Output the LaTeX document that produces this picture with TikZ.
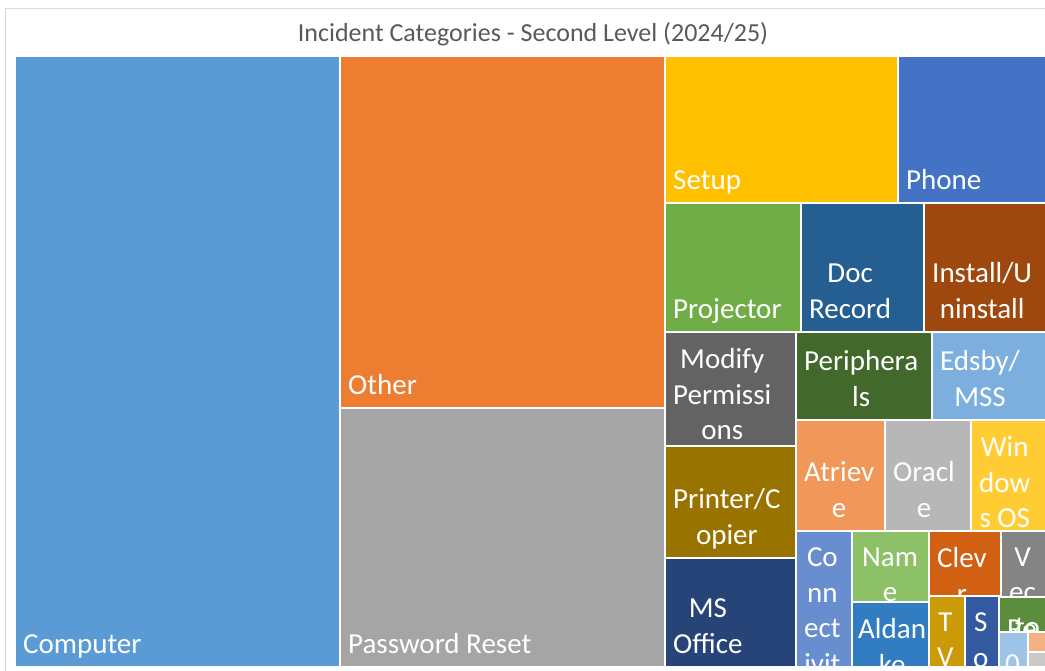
\documentclass[tikz,border=0pt]{standalone}
\usepackage{fontspec}
\setmainfont{Carlito}
\definecolor{chartborder}{HTML}{D9D9D9}
\definecolor{titlegray}{HTML}{595959}
\definecolor{computer}{HTML}{5B9BD5}
\definecolor{other}{HTML}{ED7D31}
\definecolor{password}{HTML}{A5A5A5}
\definecolor{setup}{HTML}{FFC000}
\definecolor{phone}{HTML}{4472C4}
\definecolor{projector}{HTML}{70AD47}
\definecolor{docrecord}{HTML}{255E91}
\definecolor{install}{HTML}{9E480E}
\definecolor{modify}{HTML}{636363}
\definecolor{peripherals}{HTML}{43682B}
\definecolor{edsby}{HTML}{7CAFDD}
\definecolor{printer}{HTML}{997300}
\definecolor{atrieve}{HTML}{F1975A}
\definecolor{oracle}{HTML}{B7B7B7}
\definecolor{windows}{HTML}{FFCD33}
\definecolor{msoffice}{HTML}{264478}
\definecolor{connectivity}{HTML}{698ED0}
\definecolor{namechange}{HTML}{8CC168}
\definecolor{clever}{HTML}{D26012}
\definecolor{vector}{HTML}{848484}
\definecolor{bluetile}{HTML}{327DC2}
\definecolor{tv}{HTML}{CC9A06}
\definecolor{sotile}{HTML}{335AA1}
\definecolor{retile}{HTML}{5C8D3E}
\definecolor{ltblue}{HTML}{9DC3E6}
\definecolor{salmon}{HTML}{F4B183}
\definecolor{greytile}{HTML}{C9C9C9}
\newcommand\tilefont{\fontsize{29}{35.5}\selectfont}
\tikzset{
  tile/.style={draw=white, line width=2pt},
  lbl/.style={text=white, font=\tilefont, inner sep=0pt, align=center,
    execute at begin node=\strut, execute at end node=\strut},
  lblbot/.style={lbl, anchor=south west},
  lbltop/.style={lbl, anchor=north west},
  charttitle/.style={text=titlegray, font=\fontsize{26}{31}\selectfont, inner sep=0pt, anchor=base}
}
\begin{document}
\begin{tikzpicture}[x=1pt,y=-1pt]
  \useasboundingbox (0,0) rectangle (1045,671);
  \draw[chartborder] (5.5,8.5) rectangle (1070,700);
  \node[charttitle] (title) at (533,42) {Incident Categories - Second Level (2024/25)};
  \begin{scope}
    \clip (15,56) rectangle (1047,667);
    % large tiles
    \draw[tile,fill=computer] (15,56) rectangle (340,667);
    \node[lblbot] (computerlbl) at (23,664) {Computer};
    \draw[tile,fill=other] (340,56) rectangle (665,408);
    \node[lblbot] (otherlbl) at (348,405) {Other};
    \draw[tile,fill=password] (340,408) rectangle (665,667);
    \node[lblbot] (passwordlbl) at (348,664) {Password Reset};
    \draw[tile,fill=setup] (665,56) rectangle (898,203);
    \node[lblbot] (setuplbl) at (673,200) {Setup};
    \draw[tile,fill=phone] (898,56) rectangle (1047,203);
    \node[lblbot] (phonelbl) at (906,200) {Phone};
    % second row
    \draw[tile,fill=projector] (665,203) rectangle (801,332);
    \node[lblbot] (projectorlbl) at (673,329) {Projector};
    \draw[tile,fill=docrecord] (801,203) rectangle (924,332);
    \node[lblbot] (docrecordlbl) at (809,329) {Doc\\Record};
    \draw[tile,fill=install] (924,203) rectangle (1047,332);
    \node[lblbot] (installlbl) at (932,329) {Install/U\\ninstall};
    % middle block
    \draw[tile,fill=modify] (665,332) rectangle (796,446);
    \node[lbltop] (modifylbl) at (673,348.5) {Modify\\Permissi\\ons};
    \draw[tile,fill=peripherals] (796,332) rectangle (932,420);
    \node[lblbot] (peripheralslbl) at (804,417) {Periphera\\ls};
    \draw[tile,fill=edsby] (932,332) rectangle (1047,420);
    \node[lblbot] (edsbylbl) at (940,417) {Edsby/\\MSS};
    \draw[tile,fill=printer] (665,446) rectangle (796,558);
    \node[lblbot] (printerlbl) at (673,555) {Printer/C\\opier};
    \draw[tile,fill=atrieve] (796,420) rectangle (885,531);
    \node[lblbot] (atrievelbl) at (804,528) {Atriev\\e};
    \draw[tile,fill=oracle] (885,420) rectangle (971,531);
    \node[lblbot] (oraclelbl) at (893,528) {Oracl\\e};
    \draw[tile,fill=windows] (971,420) rectangle (1047,531);
    \node[lbltop] (windowslbl) at (979,436.5) {Win\\dow\\s OS};
    \draw[tile,fill=msoffice] (665,558) rectangle (796,667);
    \node[lblbot] (msofficelbl) at (673,664) {MS\\Office};
    % small tiles
    \draw[tile,fill=connectivity] (796,531) rectangle (852,667);
    \node[lbltop] (connectivitylbl) at (804,547.5) {Co\\nn\\ect\\ivit\\y};
    \draw[tile,fill=namechange] (852,531) rectangle (929,602);
    \node[lbltop] (namechangelbl) at (860,547.5) {Nam\\e\\Chan\\ge};
    \draw[tile,fill=clever] (929,531) rectangle (1001,596);
    \node[lbltop] (cleverlbl) at (937,547.5) {Clev\\r};
    \draw[tile,fill=vector] (1001,531) rectangle (1047,597);
    \node[lbltop] (vectorlbl) at (1009,547.5) {V\\ec\\to\\r};
    \draw[tile,fill=bluetile] (852,602) rectangle (929,667);
    \node[lbltop] (bluelbl) at (858,618.5) {Aldan\\ke};
    \draw[tile,fill=tv] (929,596) rectangle (965,667);
    \node[lbltop] (tvlbl) at (937,612.5) {T\\V};
    \draw[tile,fill=sotile] (965,596) rectangle (999,667);
    \node[lbltop] (solbl) at (973,612.5) {S\\o};
    \draw[tile,fill=retile] (999,597) rectangle (1047,632);
    \node[lbltop] (relbl) at (1007,613.5) {Re};
    \node[lbltop] (reghost) at (1015,618) {to\\8};
    \draw[tile,fill=ltblue] (999,632) rectangle (1028,667);
    \node[lbltop] (ltbluelbl) at (1005,648.5) {0};
    \draw[tile,fill=salmon] (1028,632) rectangle (1047,652);
    \draw[tile,fill=greytile] (1028,652) rectangle (1047,667);
  \end{scope}
\end{tikzpicture}
\end{document}
